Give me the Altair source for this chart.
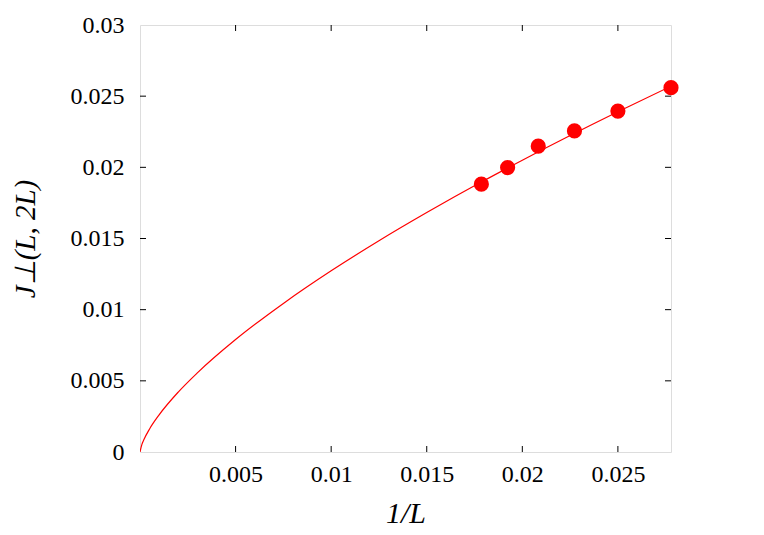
import altair as alt
import pandas as pd

# Data points: 1/L and J_perp(L, 2L)
L_values = [56, 52, 48, 44, 40, 36]
inv_L = [1 / L for L in L_values]
J_perp = [0.01882, 0.01998, 0.02149, 0.02256, 0.02395, 0.02560]

# Fit curve
curve_x = [0.0, 0.0001, 0.0002, 0.0005, 0.001, 0.002, 0.003, 0.005, 0.0075,
           0.01, 0.0125, 0.015, 0.0179, 0.02, 0.025, 1 / 36]
curve_y = [0.0, 0.00054, 0.00086, 0.00162, 0.00261, 0.00421, 0.00556, 0.0079,
           0.01044, 0.01273, 0.01484, 0.01682, 0.0190, 0.0205, 0.0239, 0.0257]

x_ticks = [0.005, 0.01, 0.015, 0.02, 0.025]
y_ticks = [0, 0.005, 0.01, 0.015, 0.02, 0.025, 0.03]
y_inner_ticks = [0.005, 0.01, 0.015, 0.02, 0.025]

W, H = 531, 427
TICK = 6
FONT = "Liberation Serif"

xscale = alt.Scale(domain=[0, 1 / 36], nice=False, zero=False)
yscale = alt.Scale(domain=[0, 0.03], nice=False, zero=False)

pts = pd.DataFrame({"x": inv_L, "y": J_perp})
curve = pd.DataFrame({"x": curve_x, "y": curve_y})
xt = pd.DataFrame({"x": x_ticks})
yt = pd.DataFrame({"y": y_inner_ticks})

xaxis = alt.Axis(values=x_ticks, format="~g", ticks=False, domain=False, grid=False,
                 labelFont=FONT, labelFontSize=24, labelColor="black", labelPadding=10,
                 title="1/L", titleFont=FONT, titleFontSize=30, titleFontStyle="italic",
                 titleFontWeight="normal", titleColor="black", titlePadding=12)
yaxis = alt.Axis(values=y_ticks, format="~g", ticks=False, domain=False, grid=False,
                 labelFont=FONT, labelFontSize=24, labelColor="black", labelPadding=16,
                 title="J⊥(L, 2L)", titleFont=FONT, titleFontSize=29, titleFontStyle="italic",
                 titleFontWeight="normal", titleColor="black", titlePadding=30)

line = alt.Chart(curve).mark_line(color="#ff0000", strokeWidth=1.2, clip=True, interpolate="monotone").encode(
    x=alt.X("x:Q", scale=xscale, axis=xaxis),
    y=alt.Y("y:Q", scale=yscale, axis=yaxis),
)
points = alt.Chart(pts).mark_circle(color="#ff0000", opacity=1, size=230).encode(
    x=alt.X("x:Q", scale=xscale),
    y=alt.Y("y:Q", scale=yscale),
)

bottom_ticks = alt.Chart(xt).mark_rule(color="black", strokeWidth=1).encode(
    x=alt.X("x:Q", scale=xscale), y=alt.value(H), y2=alt.value(H - TICK))
top_ticks = alt.Chart(xt).mark_rule(color="black", strokeWidth=1).encode(
    x=alt.X("x:Q", scale=xscale), y=alt.value(0), y2=alt.value(TICK))
left_ticks = alt.Chart(yt).mark_rule(color="black", strokeWidth=1).encode(
    y=alt.Y("y:Q", scale=yscale), x=alt.value(0), x2=alt.value(TICK))
right_ticks = alt.Chart(yt).mark_rule(color="black", strokeWidth=1).encode(
    y=alt.Y("y:Q", scale=yscale), x=alt.value(W - TICK), x2=alt.value(W))

chart = alt.layer(line, bottom_ticks, top_ticks, left_ticks, right_ticks, points).properties(
    width=W, height=H,
    autosize=alt.AutoSizeParams(type="none"),
    padding={"left": 132, "top": 17, "right": 70, "bottom": 82},
).configure_view(stroke="black", strokeWidth=1.2).configure(background="white")

chart.save("out.html", embed_options={"renderer": "svg", "actions": False})
